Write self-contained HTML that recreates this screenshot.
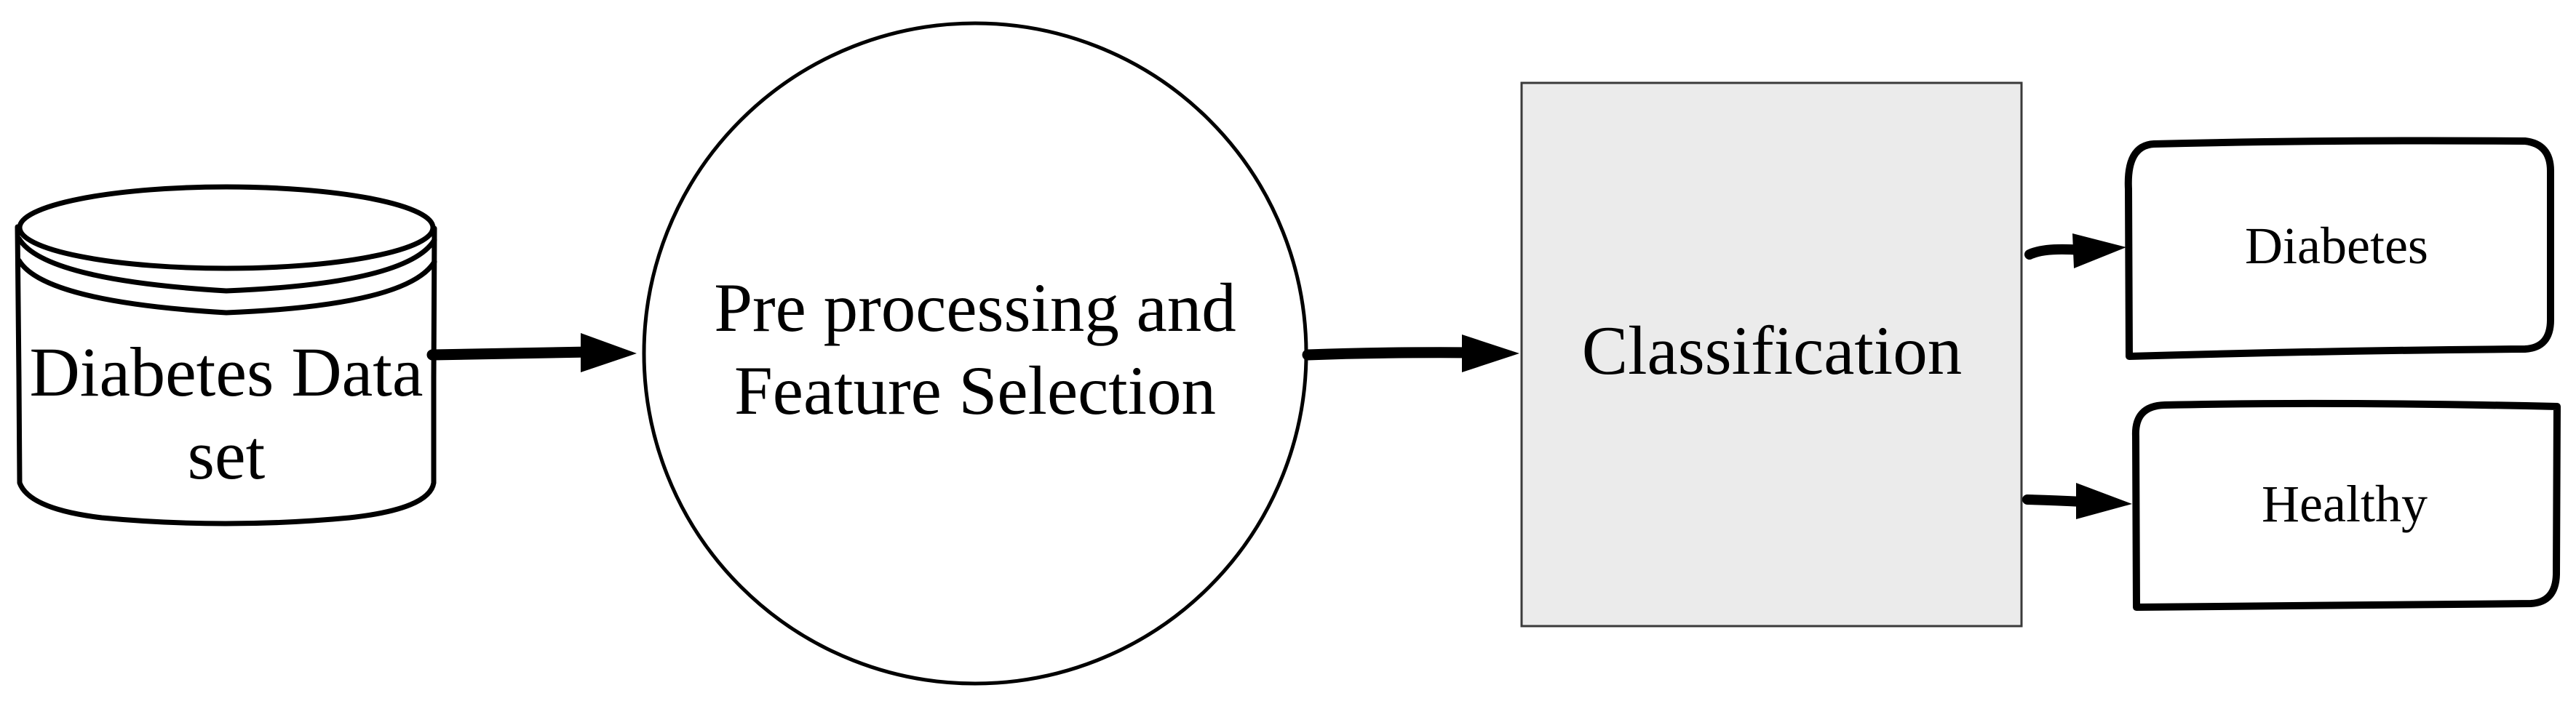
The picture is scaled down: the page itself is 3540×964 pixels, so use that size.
<!DOCTYPE html>
<html><head><meta charset="utf-8"><style>
html,body{margin:0;padding:0;background:#fff}
svg{display:block}
text{font-family:"Liberation Serif",serif;fill:#000}
</style></head><body>
<svg width="3540" height="964" viewBox="0 0 3540 964" xmlns="http://www.w3.org/2000/svg">
<g fill="none" stroke="#000" stroke-width="7" stroke-linecap="round" stroke-linejoin="round">
<path d="M24 312 L26 520 L27 664 Q40 700 140 712 Q310 728 480 712 Q590 700 596 664 L596 520 L597 314"/>
<ellipse cx="311" cy="313" rx="284" ry="56"/>
<path d="M26 328 Q60 385 311 400 Q560 390 597 330"/>
<path d="M26 358 Q60 415 311 430 Q560 420 597 360"/>
</g>
<text x="311" y="544" font-size="96" text-anchor="middle">Diabetes Data</text>
<text x="311" y="658" font-size="96" text-anchor="middle">set</text>
<path d="M594 488 Q700 486 810 484" stroke="#000" stroke-width="15" fill="none" stroke-linecap="round"/>
<polygon points="798,458 875,486 798,512" fill="#000"/>
<ellipse cx="1340" cy="486" rx="455" ry="454" fill="none" stroke="#000" stroke-width="5"/>
<text x="1340" y="455" font-size="95" text-anchor="middle">Pre processing and</text>
<text x="1340" y="569" font-size="95" text-anchor="middle">Feature Selection</text>
<path d="M1797 488 Q1900 484 2030 485" stroke="#000" stroke-width="15" fill="none" stroke-linecap="round"/>
<polygon points="2009,460 2088,486 2009,512" fill="#000"/>
<rect x="2091" y="114" width="687" height="747" fill="#ebebeb" stroke="#3a3a3a" stroke-width="3"/>
<text x="2435" y="514" font-size="95" text-anchor="middle">Classification</text>
<path d="M2789 350 Q2810 340 2860 344" stroke="#000" stroke-width="14" fill="none" stroke-linecap="round"/>
<polygon points="2848,321 2922,340 2850,369" fill="#000"/>
<path d="M2786 687 Q2820 688 2862 690" stroke="#000" stroke-width="14" fill="none" stroke-linecap="round"/>
<polygon points="2853,664 2930,693 2853,714" fill="#000"/>
<path d="M2926 490 L2925 260 Q2922 200 2960 198 Q3200 192 3470 194 Q3505 198 3505 235 L3505 440 Q3505 478 3470 480 Q3200 482 2926 490 Z" fill="#fff" stroke="#000" stroke-width="10" stroke-linejoin="round"/>
<text x="3211" y="362" font-size="72" text-anchor="middle">Diabetes</text>
<path d="M2936 835 L2935 600 Q2933 558 2975 557 Q3200 552 3514 559 L3513 790 Q3512 828 3478 830 Q3200 832 2936 835 Z" fill="#fff" stroke="#000" stroke-width="10" stroke-linejoin="round"/>
<text x="3222" y="717" font-size="72" text-anchor="middle">Healthy</text>
</svg>
</body></html>
